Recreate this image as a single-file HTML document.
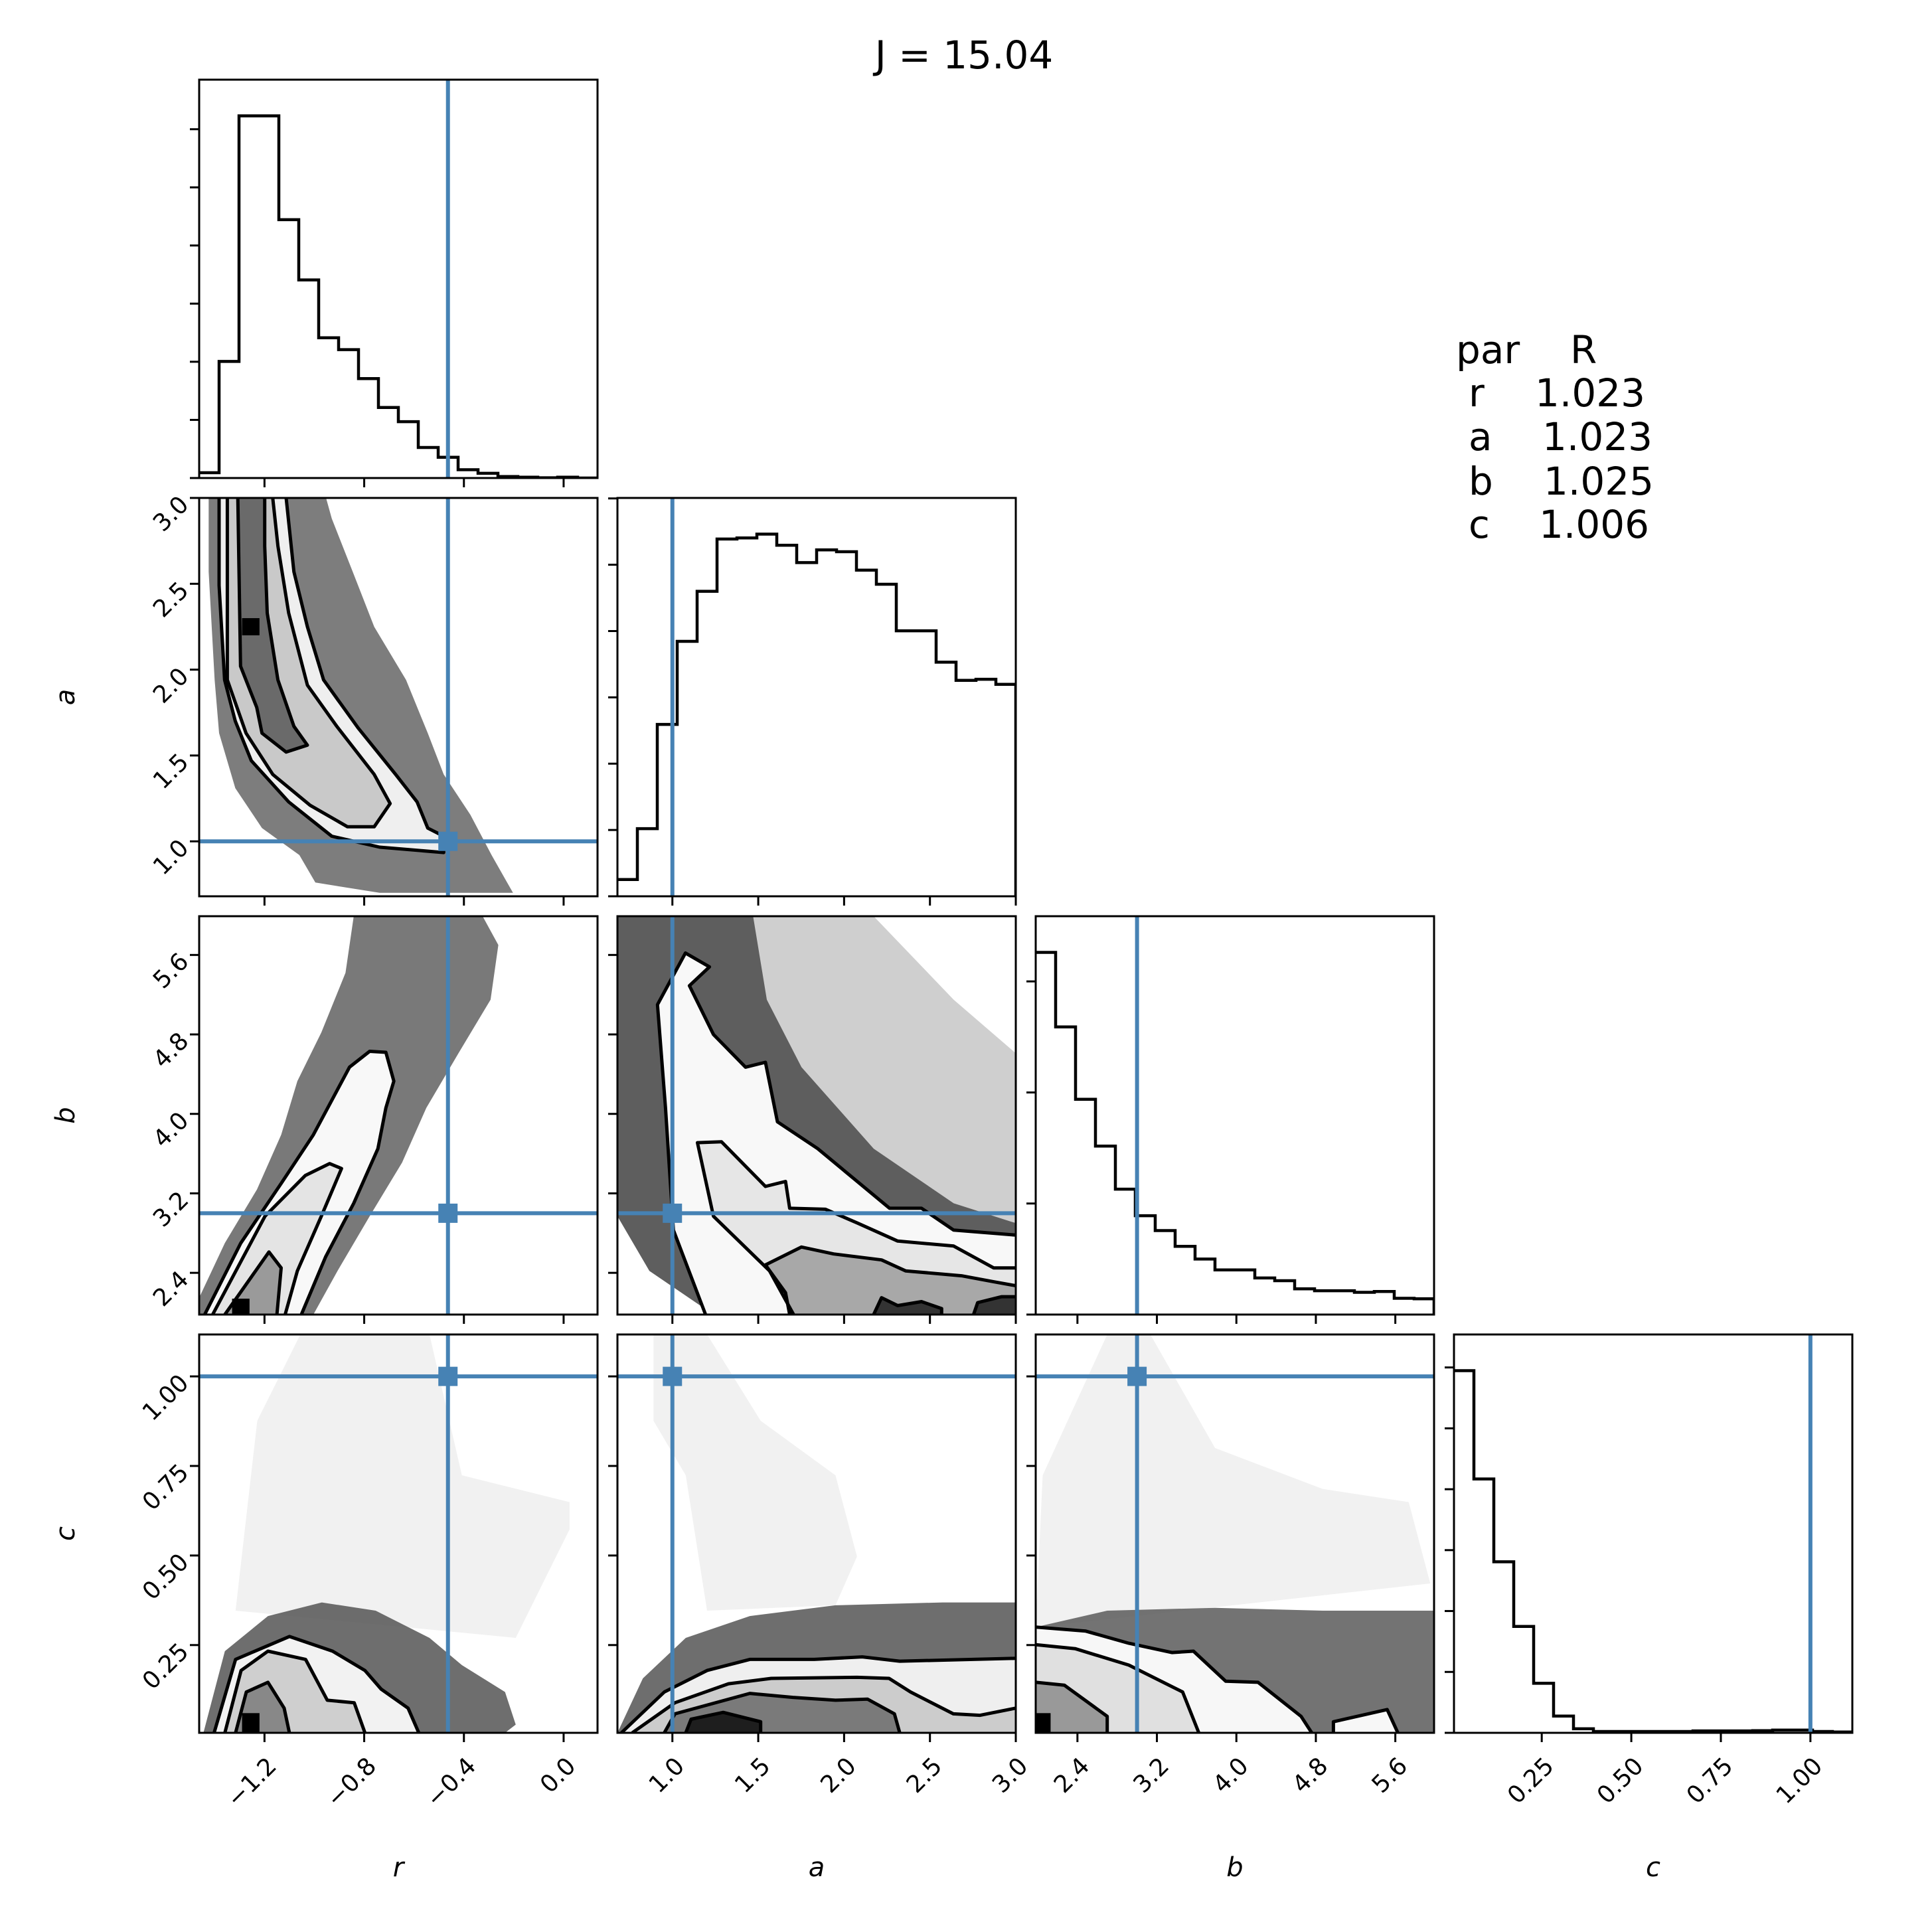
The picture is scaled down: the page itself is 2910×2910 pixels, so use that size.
<!DOCTYPE html>
<html><head><meta charset="utf-8"><title>Corner plot J = 15.04</title>
<style>
html,body{margin:0;padding:0;background:#fff;}
svg{display:block;font-family:"DejaVu Sans","Liberation Sans",sans-serif;}
</style></head>
<body>
<svg id="fig" width="2910" height="2910" viewBox="0 0 2910 2910" xmlns="http://www.w3.org/2000/svg">
<rect x="0" y="0" width="2910" height="2910" fill="#fff"/>
<text x="1452" y="103" font-size="58" text-anchor="middle">J = 15.04</text>
<g font-size="58">
<text x="2193" y="547">par</text><text x="2365" y="547">R</text>
<text x="2212" y="612">r</text><text x="2312" y="612">1.023</text>
<text x="2212" y="678">a</text><text x="2323" y="678">1.023</text>
<text x="2212" y="745">b</text><text x="2325" y="745">1.025</text>
<text x="2212" y="810">c</text><text x="2318" y="810">1.006</text>
</g>
</svg>
<script>
// ---- data ----
const varNames = ['r','a','b','c'];
const ranges = [[-1.462,0.136],[0.68,3.0],[1.98,5.99],[0.005,1.117]];
const ticksR = [-1.2,-0.8,-0.4,0.0];
const labelsR = ['−1.2','−0.8','−0.4','0.0'];
const ticksA = [1.0,1.5,2.0,2.5,3.0];
const labelsA = ['1.0','1.5','2.0','2.5','3.0'];
const ticksB = [2.4,3.2,4.0,4.8,5.6];
const labelsB = ['2.4','3.2','4.0','4.8','5.6'];
const ticksC = [0.25,0.5,0.75,1.0];
const labelsC = ['0.25','0.50','0.75','1.00'];
const truths = [-0.464,1.0,3.0,1.0];

const histR = [18,393,1221,1221,871,668,473,433,335,238,190,103,70,28,16,5,3,1,3,0];
const histA = [62,250,635,942,1127,1320,1324,1338,1297,1233,1280,1273,1205,1153,981,981,865,798,802,783];
const histB = [1337,1062,795,622,463,365,310,252,205,165,165,135,125,95,88,88,82,85,60,58];
const histC = [1338,938,632,393,183,62,15,5,5,5,5,5,7,7,7,8,10,10,5,3];
const histTickStep = [196,245,410,225];

// (r,a)
const raCloud = [[-1.424,2.995],[-1.424,2.57],[-1.40,1.94],[-1.382,1.63],[-1.317,1.31],[-1.21,1.077],[-1.06,0.92],[-0.996,0.76],[-0.738,0.70],[-0.417,0.70],[-0.203,0.70],[-0.289,0.92],[-0.374,1.155],[-0.481,1.39],[-0.545,1.63],[-0.632,1.94],[-0.76,2.25],[-0.846,2.57],[-0.93,2.88],[-0.953,3.0]];
const raC1 = [[-1.382,3.0],[-1.382,2.49],[-1.36,1.94],[-1.317,1.70],[-1.253,1.47],[-1.103,1.23],[-0.93,1.03],[-0.738,0.966],[-0.481,0.935],[-0.481,1.03],[-0.545,1.077],[-0.588,1.23],[-0.674,1.39],[-0.824,1.66],[-0.963,1.94],[-1.028,2.25],[-1.082,2.57],[-1.113,3.0]];
const raC2 = [[-1.349,3.0],[-1.349,1.94],[-1.274,1.63],[-1.167,1.39],[-1.017,1.21],[-0.867,1.085],[-0.76,1.085],[-0.696,1.22],[-0.76,1.39],[-0.91,1.67],[-1.028,1.91],[-1.103,2.33],[-1.146,2.72],[-1.167,3.0]];
const raC3 = [[-1.307,3.0],[-1.296,2.02],[-1.231,1.78],[-1.21,1.63],[-1.113,1.52],[-1.028,1.56],[-1.082,1.67],[-1.146,1.94],[-1.189,2.33],[-1.199,2.72],[-1.199,3.0]];
const raDark = [[-1.29,2.2],[-1.22,2.3]];
// (r,b)
const rbCloud = [[-0.842,5.99],[-0.875,5.42],[-0.972,4.82],[-1.068,4.33],[-1.133,3.79],[-1.23,3.24],[-1.359,2.70],[-1.462,2.15],[-1.462,1.98],[-1.004,1.98],[-0.907,2.42],[-0.778,2.97],[-0.648,3.51],[-0.551,4.06],[-0.422,4.61],[-0.293,5.15],[-0.262,5.70],[-0.325,5.99]];
const rbC1 = [[-1.44,1.98],[-1.295,2.70],[-1.133,3.30],[-1.004,3.79],[-0.859,4.47],[-0.778,4.63],[-0.713,4.62],[-0.681,4.33],[-0.713,4.06],[-0.745,3.65],[-0.842,3.10],[-0.955,2.56],[-1.052,1.98]];
const rbC2 = [[-1.408,1.98],[-1.198,2.97],[-1.036,3.38],[-0.939,3.50],[-0.891,3.45],[-0.972,2.97],[-1.068,2.42],[-1.117,1.98]];
const rbC3 = [[-1.359,1.98],[-1.182,2.61],[-1.133,2.45],[-1.150,1.98]];
const rbDark = [[-1.33,1.98],[-1.26,2.14]];
// (a,b)
const abCloudOuter = [[0.68,5.99],[2.172,5.99],[2.638,5.15],[3.0,4.61],[3.0,1.98],[1.239,1.98],[0.866,2.42],[0.68,2.97]];
const abCloudInner = [[0.68,5.99],[1.47,5.99],[1.55,5.15],[1.752,4.47],[2.172,3.65],[2.638,3.10],[3.0,2.90],[3.0,1.98],[1.239,1.98],[0.866,2.42],[0.68,2.97]];
const abC1 = [[1.193,1.98],[1.006,2.83],[0.96,4.06],[0.913,5.10],[1.076,5.62],[1.216,5.48],[1.099,5.29],[1.239,4.80],[1.426,4.47],[1.542,4.52],[1.612,3.92],[1.846,3.65],[2.265,3.05],[2.451,3.05],[2.638,2.83],[3.0,2.78]];
const abC2 = [[1.706,1.98],[1.566,2.42],[1.239,2.97],[1.146,3.71],[1.286,3.72],[1.542,3.27],[1.659,3.32],[1.683,3.05],[1.892,3.04],[2.079,2.90],[2.312,2.72],[2.638,2.67],[2.871,2.45],[3.0,2.45]];
const abC3 = [[1.683,1.98],[1.659,2.20],[1.542,2.48],[1.752,2.66],[1.939,2.59],[2.218,2.53],[2.358,2.42],[2.684,2.37],[2.871,2.31],[3.0,2.27]];
const abC4a = [[2.172,1.98],[2.218,2.15],[2.312,2.07],[2.451,2.11],[2.568,2.04],[2.568,1.98]];
const abC4b = [[2.754,1.98],[2.778,2.10],[2.918,2.16],[3.0,2.16]];
// (r,c)
const rcSparse = [[-1.316,0.346],[-1.229,0.876],[-1.056,1.117],[-0.538,1.117],[-0.408,0.724],[0.024,0.649],[0.024,0.573],[-0.192,0.27]];
const rcCloud = [[-1.445,0.005],[-1.359,0.233],[-1.186,0.331],[-0.97,0.369],[-0.754,0.346],[-0.538,0.27],[-0.408,0.194],[-0.235,0.119],[-0.192,0.028],[-0.235,0.005]];
const rcC1 = [[-1.402,0.005],[-1.316,0.21],[-1.10,0.274],[-0.927,0.233],[-0.797,0.179],[-0.732,0.127],[-0.624,0.074],[-0.581,0.005]];
const rcC2 = [[-1.359,0.005],[-1.294,0.179],[-1.186,0.233],[-1.035,0.21],[-0.948,0.096],[-0.84,0.089],[-0.797,0.005]];
const rcC3 = [[-1.316,0.005],[-1.273,0.119],[-1.186,0.146],[-1.121,0.074],[-1.10,0.005]];
const rcDark = [[-1.29,0.005],[-1.22,0.06]];
// (a,c)
const acSparse = [[0.89,1.117],[1.202,1.117],[1.514,0.876],[1.95,0.724],[2.075,0.497],[1.95,0.361],[1.202,0.346],[1.078,0.724],[0.89,0.876]];
const acCloud = [[0.68,0.005],[0.828,0.157],[1.078,0.27],[1.451,0.331],[1.95,0.361],[2.574,0.369],[3.0,0.369],[3.0,0.005]];
const acC1 = [[0.703,0.005],[0.953,0.119],[1.202,0.179],[1.451,0.21],[1.826,0.21],[2.106,0.217],[2.324,0.205],[3.0,0.213]];
const acC2 = [[0.766,0.005],[1.015,0.089],[1.327,0.142],[1.576,0.157],[2.075,0.160],[2.262,0.157],[2.387,0.119],[2.636,0.058],[2.792,0.054],[3.0,0.074]];
const acC3 = [[0.953,0.005],[1.015,0.058],[1.451,0.115],[1.701,0.104],[1.95,0.096],[2.137,0.099],[2.293,0.058],[2.324,0.005]];
const acC4 = [[1.078,0.005],[1.109,0.043],[1.296,0.062],[1.514,0.036],[1.514,0.005]];
// (b,c)
const bcSparse = [[2.05,0.724],[2.70,1.117],[3.134,1.117],[3.785,0.80],[4.868,0.686],[5.735,0.649],[5.952,0.422],[1.98,0.30]];
const bcCloud = [[1.98,0.30],[2.70,0.346],[3.785,0.354],[4.868,0.346],[5.99,0.346],[5.99,0.005],[1.98,0.005]];
const bcC1 = [[1.98,0.30],[2.484,0.289],[2.918,0.255],[3.351,0.229],[3.568,0.233],[3.893,0.149],[4.218,0.146],[4.651,0.051],[4.759,0.005]];
const bcC1b = [[4.977,0.005],[4.977,0.036],[5.518,0.07],[5.626,0.005]];
const bcC2 = [[1.98,0.251],[2.376,0.240],[2.918,0.194],[3.459,0.119],[3.622,0.005]];
const bcC3 = [[1.98,0.146],[2.268,0.138],[2.70,0.051],[2.70,0.005]];
const bcDark = [[1.98,0.005],[2.13,0.06]];

// ---- layout ----
const NS = 'http://www.w3.org/2000/svg';
const svg = document.getElementById('fig');
const SIZE = 600;
const X0 = [300,930,1560,2190];
const Y0 = [120,750,1380,2010];
const BLUE = '#4682b4';
const tickSets = [[ticksR,labelsR],[ticksA,labelsA],[ticksB,labelsB],[ticksC,labelsC]];
const hists = [histR,histA,histB,histC];

function sx(col, v){ const lo=ranges[col][0], hi=ranges[col][1]; return X0[col] + (v-lo)/(hi-lo)*SIZE; }
function sy(row, v){ const lo=ranges[row][0], hi=ranges[row][1]; return Y0[row] + SIZE - (v-lo)/(hi-lo)*SIZE; }
function mk(tag, parent){ const e=document.createElementNS(NS, tag); parent.appendChild(e); return e; }
function ptsStr(pts, row, col){ return pts.map(p => sx(col,p[0]).toFixed(1)+','+sy(row,p[1]).toFixed(1)).join(' '); }
function corner(code,row,col){
  const xs = code.indexOf('R')>=0 ? ranges[col][1] : ranges[col][0];
  const ys = code.indexOf('T')>=0 ? ranges[row][1] : ranges[row][0];
  return [xs,ys];
}

function drawFrameAndTicks(g, row, col, isHist){
  const x0=X0[col], y0=Y0[row];
  const xt = tickSets[col];
  xt[0].forEach((t,i)=>{
    const x=sx(col,t);
    const tk=mk('line',g);
    
    
    tk.setAttribute('x1',x); tk.setAttribute('x2',x);
    tk.setAttribute('y1',y0+SIZE); tk.setAttribute('y2',y0+SIZE+14);
    tk.setAttribute('stroke','#000'); tk.setAttribute('stroke-width','3');
    if(row===3){
      const lb=mk('text',g);
      
      
      const lx=x+12, ly=y0+SIZE+44;
      lb.setAttribute('x',lx); lb.setAttribute('y',ly);
      lb.setAttribute('font-size','36');
      lb.setAttribute('text-anchor','end');
      lb.setAttribute('dominant-baseline','central');
      lb.setAttribute('transform','rotate(-45 '+lx+' '+ly+')');
      lb.textContent=xt[1][i];
    }
  });
  if(isHist){
    const h=hists[col]; const ymax=Math.max.apply(null,h)*1.1;
    for(let v=0; v<ymax; v+=histTickStep[col]){
      const y=y0+SIZE-v/ymax*SIZE;
      const tk=mk('line',g);
      
      
      tk.setAttribute('x1',x0-14); tk.setAttribute('x2',x0);
      tk.setAttribute('y1',y); tk.setAttribute('y2',y);
      tk.setAttribute('stroke','#000'); tk.setAttribute('stroke-width','3');
    }
  } else {
    const yt = tickSets[row];
    yt[0].forEach((t,i)=>{
      const y=sy(row,t);
      const tk=mk('line',g);
      
      
      tk.setAttribute('x1',x0-14); tk.setAttribute('x2',x0);
      tk.setAttribute('y1',y); tk.setAttribute('y2',y);
      tk.setAttribute('stroke','#000'); tk.setAttribute('stroke-width','3');
      if(col===0){
        const lb=mk('text',g);
        
        
        const lx=x0-22, ly=y+4;
        lb.setAttribute('x',lx); lb.setAttribute('y',ly);
        lb.setAttribute('font-size','36');
        lb.setAttribute('text-anchor','end');
        lb.setAttribute('dominant-baseline','central');
        lb.setAttribute('transform','rotate(-45 '+lx+' '+ly+')');
        lb.textContent=yt[1][i];
      }
    });
  }
  const fr=mk('rect',g);
  
  
  fr.setAttribute('x',x0); fr.setAttribute('y',y0);
  fr.setAttribute('width',SIZE); fr.setAttribute('height',SIZE);
  fr.setAttribute('fill','none'); fr.setAttribute('stroke','#000'); fr.setAttribute('stroke-width','3');
}

function clipFor(row,col){
  const id='clip-'+row+'-'+col;
  const cp=mk('clipPath',svg); cp.setAttribute('id',id);
  const r=mk('rect',cp);
  r.setAttribute('x',X0[col]); r.setAttribute('y',Y0[row]);
  r.setAttribute('width',SIZE); r.setAttribute('height',SIZE);
  return 'url(#'+id+')';
}

// ---- histograms ----
for(let k=0;k<4;k++){
  const g=mk('g',svg);
  
  
  const inner=mk('g',g); inner.setAttribute('clip-path',clipFor(k,k));
  const h=hists[k]; const ymax=Math.max.apply(null,h)*1.1;
  const lo=ranges[k][0], hi=ranges[k][1]; const n=h.length;
  const yv=v=>Y0[k]+SIZE-v/ymax*SIZE;
  let d='M'+sx(k,lo).toFixed(1)+' '+yv(h[0]).toFixed(1);
  for(let i=0;i<n;i++){
    const xr=sx(k,lo+(hi-lo)*(i+1)/n);
    d+=' H'+xr.toFixed(1);
    d+=' V'+(i<n-1?yv(h[i+1]):yv(0)).toFixed(1);
  }
  const p=mk('path',inner);
  
  
  p.setAttribute('d',d); p.setAttribute('fill','none');
  p.setAttribute('stroke','#000'); p.setAttribute('stroke-width','4.5');
  const tl=mk('line',inner);
  
  
  const tx=sx(k,truths[k]);
  tl.setAttribute('x1',tx); tl.setAttribute('x2',tx);
  tl.setAttribute('y1',Y0[k]); tl.setAttribute('y2',Y0[k]+SIZE);
  tl.setAttribute('stroke',BLUE); tl.setAttribute('stroke-width','6');
  drawFrameAndTicks(g,k,k,true);
}

// ---- 2D panels ----
const panels = [
  {row:1,col:0,areas:[[raCloud,'#666',0.85]],fills:[[raC1,'','#efefef'],[raC2,'','#c9c9c9'],[raC3,'','#6a6a6a']],dark:[raDark]},
  {row:2,col:0,areas:[[rbCloud,'#626262',0.85]],fills:[[rbC1,'','#f8f8f8'],[rbC2,'','#e4e4e4'],[rbC3,'','#9a9a9a']],dark:[rbDark]},
  {row:2,col:1,areas:[[abCloudOuter,'#cfcfcf',1],[abCloudInner,'#4a4a4a',0.85]],fills:[[abC1,'BR','#f8f8f8'],[abC2,'BR','#e6e6e6'],[abC3,'BR','#a8a8a8'],[abC4a,'','#333'],[abC4b,'BR','#333']],dark:[]},
  {row:3,col:0,areas:[[rcSparse,'#f1f1f1',1],[rcCloud,'#555',0.85]],fills:[[rcC1,'','#f2f2f2'],[rcC2,'','#cfcfcf'],[rcC3,'','#888']],dark:[rcDark]},
  {row:3,col:1,areas:[[acSparse,'#f1f1f1',1],[acCloud,'#555',0.85]],fills:[[acC1,'BR','#efefef'],[acC2,'BR','#cccccc'],[acC3,'','#7a7a7a'],[acC4,'','#1e1e1e']],dark:[]},
  {row:3,col:2,areas:[[bcSparse,'#f1f1f1',1],[bcCloud,'#5a5a5a',0.85]],fills:[[bcC1,'BL','#f7f7f7'],[bcC1b,'','#f7f7f7'],[bcC2,'BL','#e0e0e0'],[bcC3,'BL','#999']],dark:[bcDark]}
];

panels.forEach(P=>{
  const row=P.row, col=P.col;
  const g=mk('g',svg);
  
  
  const inner=mk('g',g); inner.setAttribute('clip-path',clipFor(row,col));
  P.areas.forEach(A=>{
    const pg=mk('polygon',inner);
    
    
    pg.setAttribute('points',ptsStr(A[0],row,col));
    pg.setAttribute('fill',A[1]); pg.setAttribute('fill-opacity',A[2]);
  });
  P.fills.forEach(F=>{
    let pts=F[0].slice();
    if(F[1]) pts.push(corner(F[1],row,col));
    const pg=mk('polygon',inner);
    
    
    pg.setAttribute('points',ptsStr(pts,row,col));
    pg.setAttribute('fill',F[2]);
  });
  P.dark.forEach(D=>{
    const r=mk('rect',inner);
    
    
    const xa=sx(col,D[0][0]), xb=sx(col,D[1][0]), ya=sy(row,D[0][1]), yb=sy(row,D[1][1]);
    r.setAttribute('x',Math.min(xa,xb)); r.setAttribute('y',Math.min(ya,yb));
    r.setAttribute('width',Math.abs(xb-xa)); r.setAttribute('height',Math.abs(yb-ya));
    r.setAttribute('fill','#000');
  });
  P.fills.forEach(F=>{
    const pl=mk('polyline',inner);
    
    
    pl.setAttribute('points',ptsStr(F[0],row,col));
    pl.setAttribute('fill','none'); pl.setAttribute('stroke','#000');
    pl.setAttribute('stroke-width','5'); pl.setAttribute('stroke-linejoin','round');
  });
  const tx=sx(col,truths[col]), ty=sy(row,truths[row]);
  const vl=mk('line',inner);
  
  
  vl.setAttribute('x1',tx); vl.setAttribute('x2',tx);
  vl.setAttribute('y1',Y0[row]); vl.setAttribute('y2',Y0[row]+SIZE);
  vl.setAttribute('stroke',BLUE); vl.setAttribute('stroke-width','6');
  const hl=mk('line',inner);
  
  
  hl.setAttribute('x1',X0[col]); hl.setAttribute('x2',X0[col]+SIZE);
  hl.setAttribute('y1',ty); hl.setAttribute('y2',ty);
  hl.setAttribute('stroke',BLUE); hl.setAttribute('stroke-width','6');
  const mkr=mk('rect',inner);
  
  
  mkr.setAttribute('x',tx-14.5); mkr.setAttribute('y',ty-14.5);
  mkr.setAttribute('width',29); mkr.setAttribute('height',29);
  mkr.setAttribute('fill',BLUE);
  drawFrameAndTicks(g,row,col,false);
});

// ---- axis labels ----
for(let k=0;k<4;k++){
  const xl=mk('text',svg);
  
  
  xl.setAttribute('x',X0[k]+SIZE/2); xl.setAttribute('y',2826);
  xl.setAttribute('font-size','40'); xl.setAttribute('font-style','italic');
  xl.setAttribute('text-anchor','middle');
  xl.textContent=varNames[k];
  if(k>0){
    const yl=mk('text',svg);
    
    
    const cx=112, cy=Y0[k]+SIZE/2;
    yl.setAttribute('x',cx); yl.setAttribute('y',cy);
    yl.setAttribute('font-size','40'); yl.setAttribute('font-style','italic');
    yl.setAttribute('text-anchor','middle');
    yl.setAttribute('transform','rotate(-90 '+cx+' '+cy+')');
    yl.textContent=varNames[k];
  }
}
</script>
</body></html>
